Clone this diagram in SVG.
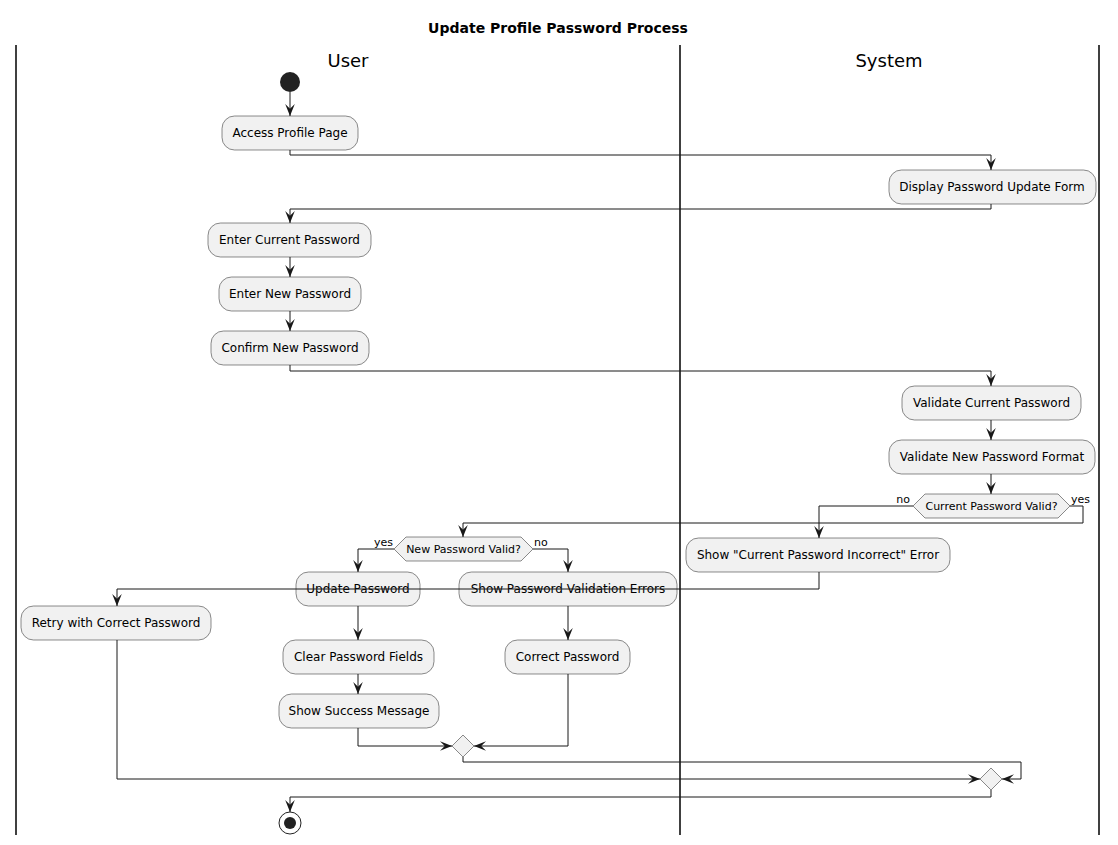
<svg xmlns="http://www.w3.org/2000/svg" width="1118" height="845" viewBox="0 0 1118 845">
<style>
.bg{fill:#ffffff}
.lane{stroke:#000000;stroke-width:1.5;fill:none}
.act rect{fill:#F1F1F1;stroke:#181818;stroke-width:0.5}
.act text{font-family:"DejaVu Sans",sans-serif;font-size:12px;fill:#000000;text-anchor:middle}
.dec polygon{fill:#F1F1F1;stroke:#181818;stroke-width:0.5}
.dec text{font-family:"DejaVu Sans",sans-serif;font-size:11px;fill:#000000;text-anchor:middle}
.lbl{font-family:"DejaVu Sans",sans-serif;font-size:11px;fill:#000000}
.hdr{font-family:"DejaVu Sans",sans-serif;font-size:18px;fill:#000000;text-anchor:middle}
.title{font-family:"DejaVu Sans",sans-serif;font-size:14px;font-weight:bold;fill:#000000;text-anchor:middle}
#connectors path{fill:none;stroke:#181818;stroke-width:1;marker-end:url(#arr)}
#connectors path.plain{marker-end:none}
</style>
<defs>
<marker id="arr" markerUnits="userSpaceOnUse" markerWidth="12" markerHeight="12" viewBox="0 0 10 10" refX="10" refY="5" orient="auto">
<path d="M0,1 L10,5 L0,9 L4,5 Z" fill="#181818"/>
</marker>
</defs>
<rect class="bg" x="0" y="0" width="1118" height="845"/>
<text class="title" x="558" y="33">Update Profile Password Process</text>
<g id="lanes">
<line class="lane" x1="16" y1="45" x2="16" y2="835"/>
<line class="lane" x1="680" y1="45" x2="680" y2="835"/>
<line class="lane" x1="1099" y1="45" x2="1099" y2="835"/>
<text class="hdr" x="348" y="67">User</text>
<text class="hdr" x="889" y="67">System</text>
</g>
<g id="start"><circle cx="290" cy="82" r="10" fill="#222222"/></g>
<g id="n1" class="act"><rect x="222" y="116" width="136" height="34" rx="12.5"/><text x="290" y="137">Access Profile Page</text></g>
<g id="n2" class="act"><rect x="889" y="170" width="207" height="34" rx="12.5"/><text x="992" y="191">Display Password Update Form</text></g>
<g id="n3" class="act"><rect x="208" y="223" width="163" height="34" rx="12.5"/><text x="289.5" y="244">Enter Current Password</text></g>
<g id="n4" class="act"><rect x="219" y="277" width="142" height="34" rx="12.5"/><text x="290" y="298">Enter New Password</text></g>
<g id="n5" class="act"><rect x="211" y="331" width="158" height="34" rx="12.5"/><text x="290" y="352">Confirm New Password</text></g>
<g id="n6" class="act"><rect x="902" y="386" width="179" height="34" rx="12.5"/><text x="991.5" y="407">Validate Current Password</text></g>
<g id="n7" class="act"><rect x="889" y="440" width="206" height="34" rx="12.5"/><text x="992" y="461">Validate New Password Format</text></g>
<g id="d1" class="dec"><polygon points="913,506 925,494 1058,494 1070,506 1058,518 925,518"/><text x="991.5" y="510">Current Password Valid?</text></g>
<g id="n8" class="act"><rect x="686" y="538" width="264" height="34" rx="12.5"/><text x="818" y="559">Show "Current Password Incorrect" Error</text></g>
<g id="d2" class="dec"><polygon points="394,549 406,537 521,537 533,549 521,561 406,561"/><text x="463.5" y="553">New Password Valid?</text></g>
<g id="n9" class="act"><rect x="296" y="572" width="124" height="34" rx="12.5"/><text x="358" y="593">Update Password</text></g>
<g id="n10" class="act"><rect x="459" y="572" width="218" height="34" rx="12.5"/><text x="568" y="593">Show Password Validation Errors</text></g>
<g id="n11" class="act"><rect x="21" y="606" width="190" height="34" rx="12.5"/><text x="116" y="627">Retry with Correct Password</text></g>
<g id="n12" class="act"><rect x="283" y="640" width="151" height="34" rx="12.5"/><text x="358.5" y="661">Clear Password Fields</text></g>
<g id="n13" class="act"><rect x="505" y="640" width="125" height="34" rx="12.5"/><text x="567.5" y="661">Correct Password</text></g>
<g id="n14" class="act"><rect x="279" y="694" width="160" height="34" rx="12.5"/><text x="359" y="715">Show Success Message</text></g>
<g id="m1" class="dec"><polygon points="452,746 463,735 474,746 463,757"/></g>
<g id="m2" class="dec"><polygon points="980,779 991,768 1002,779 991,790"/></g>
<g id="end"><circle cx="290" cy="823" r="11" fill="none" stroke="#222222" stroke-width="1"/><circle cx="290" cy="823" r="6" fill="#222222"/></g>
<g id="labels">
<text class="lbl" x="910" y="503" text-anchor="end">no</text>
<text class="lbl" x="1071" y="503">yes</text>
<text class="lbl" x="393" y="546" text-anchor="end">yes</text>
<text class="lbl" x="534" y="546">no</text>
</g>
<g id="connectors">
<path d="M290,92 V116"/>
<path d="M290,150 V155 H991 V170"/>
<path d="M991,204 V209 H290 V223"/>
<path d="M290,257 V277"/>
<path d="M290,311 V331"/>
<path d="M290,365 V371 H991 V386"/>
<path d="M991,420 V440"/>
<path d="M991,474 V494"/>
<path d="M913,506 H819 V538"/>
<path d="M1070,506 H1083 V523 H463 V537"/>
<path d="M394,549 H358 V572"/>
<path d="M533,549 H568 V572"/>
<path d="M819,572 V589 H117 V606"/>
<path d="M358,606 V640"/>
<path d="M358,674 V694"/>
<path d="M568,606 V640"/>
<path d="M358,728 V746 H452"/>
<path d="M568,674 V746 H474"/>
<path d="M463,757 V762 H1021 V779 H1002"/>
<path d="M117,640 V779 H980"/>
<path d="M991,790 V797 H290 V812"/>
</g>
</svg>
